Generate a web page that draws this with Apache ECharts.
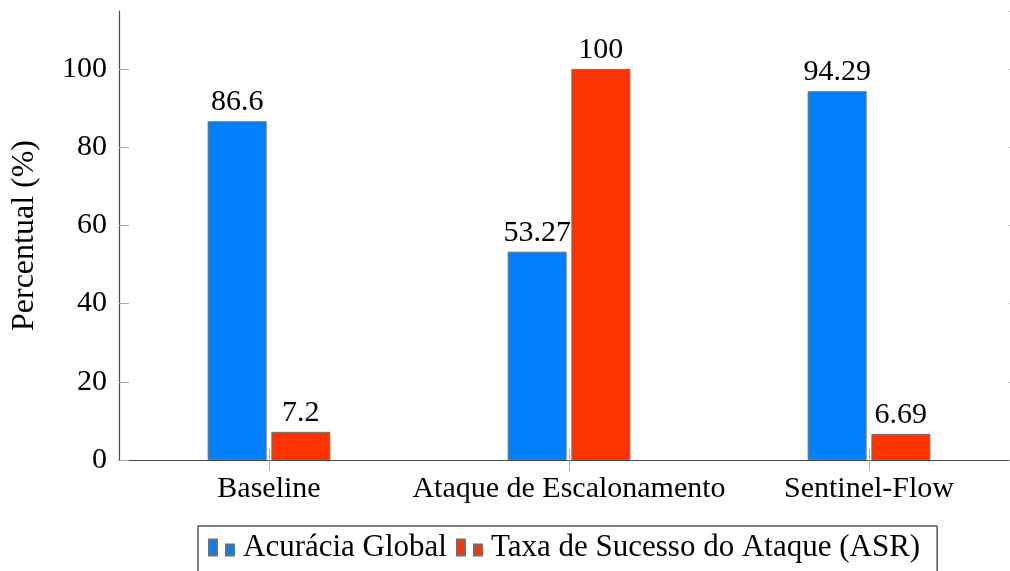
<!DOCTYPE html>
<html>
<head>
<meta charset="utf-8">
<script src="https://cdn.jsdelivr.net/npm/echarts@6/dist/echarts.min.js"></script>
<style>
  html, body { margin: 0; padding: 0; background: #fff; overflow: hidden; }
  /* the plot frame runs a little past the right edge of the page */
  #chart { width: 1030px; height: 571px; }
</style>
</head>
<body>
<div id="chart"></div>
<script>
// Scenario names along the x axis
const categories = ['Baseline', 'Ataque de Escalonamento', 'Sentinel-Flow'];
// Global accuracy (%) per scenario
const accuracy = [86.6, 53.27, 94.29];
// Attack success rate (%) per scenario
const asr = [7.2, 100, 6.69];
// Series names for the legend
const seriesNames = ['Acurácia Global', 'Taxa de Sucesso do Ataque (ASR)'];

const SERIF = '"Liberation Serif", "DejaVu Serif", serif';
const AXIS = '#4a4a4a';
const BLUE = '#0080ff';
const RED = '#ff3300';
// two-bar glyph used as the legend marker
const legendIcon = 'path://M0,0H8V16H0Z M17,5H25V16H17Z';

const chart = echarts.init(document.getElementById('chart'), null, { renderer: 'canvas' });

const barLabel = {
  show: true,
  position: 'top',
  distance: 4,
  color: '#000',
  fontFamily: SERIF,
  fontSize: 30
};

chart.setOption({
  animation: false,
  backgroundColor: '#fff',
  grid: { left: 119, top: 11, right: 11, bottom: 111, containLabel: false },
  legend: {
    left: 198,
    top: 526,
    orient: 'horizontal',
    borderColor: '#000',
    borderWidth: 1,
    borderRadius: 0,
    padding: [6, 17, 12, 10],
    itemGap: 9,
    itemWidth: 25,
    itemHeight: 16,
    textStyle: { fontFamily: SERIF, fontSize: 31, color: '#000', padding: [0, 0, 0, 4] },
    data: [
      { name: seriesNames[0], icon: legendIcon },
      { name: seriesNames[1], icon: legendIcon }
    ]
  },
  xAxis: [
    {
      type: 'category',
      data: categories,
      position: 'bottom',
      axisLine: { show: true, lineStyle: { color: AXIS, width: 1.2 } },
      axisTick: { show: true, alignWithLabel: true, length: 11, inside: false, lineStyle: { color: '#aaa' } },
      axisLabel: { fontFamily: SERIF, fontSize: 30, color: '#000', margin: 14, interval: 0 },
      splitLine: { show: false }
    },
    {
      type: 'category',
      data: categories,
      position: 'top',
      axisLine: { show: true, lineStyle: { color: AXIS, width: 1.2 } },
      axisTick: { show: true, alignWithLabel: true, length: 11, inside: false, lineStyle: { color: '#aaa' } },
      axisLabel: { show: false },
      splitLine: { show: false }
    }
  ],
  yAxis: [
    {
      type: 'value',
      min: 0,
      max: 114.8,
      interval: 20,
      position: 'left',
      name: 'Percentual (%)',
      nameLocation: 'middle',
      nameRotate: 90,
      nameGap: 78,
      nameTextStyle: { fontFamily: SERIF, fontSize: 32, color: '#000' },
      axisLine: { show: true, lineStyle: { color: AXIS, width: 1.2 } },
      axisTick: { show: true, inside: true, length: 10, lineStyle: { color: '#aaa' } },
      axisLabel: {
        fontFamily: SERIF, fontSize: 30, color: '#000', margin: 12,
        showMaxLabel: false,
        formatter: v => (v <= 100 ? String(v) : '')
      },
      splitLine: { show: false }
    },
    {
      type: 'value',
      min: 0,
      max: 114.8,
      interval: 20,
      position: 'right',
      axisLine: { show: true, lineStyle: { color: AXIS, width: 1.2 } },
      axisTick: { show: true, inside: true, length: 10, lineStyle: { color: '#aaa' } },
      axisLabel: { show: false },
      splitLine: { show: false }
    }
  ],
  series: [
    {
      name: seriesNames[0],
      type: 'bar',
      data: accuracy,
      barWidth: 59,
      barGap: '8%',
      itemStyle: { color: BLUE, borderColor: '#707070', borderWidth: 1 },
      label: barLabel
    },
    {
      name: seriesNames[1],
      type: 'bar',
      data: asr,
      barWidth: 59,
      barGap: '8%',
      itemStyle: { color: RED, borderColor: '#707070', borderWidth: 1 },
      label: barLabel
    }
  ]
});
</script>
</body>
</html>
